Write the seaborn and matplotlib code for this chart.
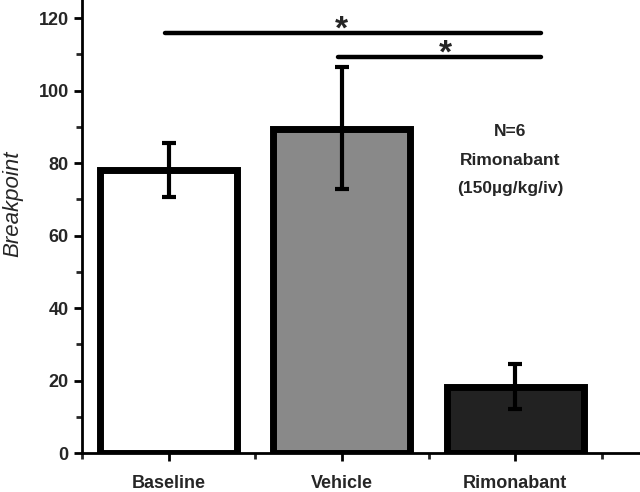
import matplotlib
matplotlib.use("Agg")
import matplotlib.pyplot as plt
import pandas as pd
import seaborn as sns
from matplotlib.ticker import MultipleLocator, FixedLocator

# data
groups = ["Baseline", "Vehicle", "Rimonabant"]
breakpoint = [78, 89.5, 18.3]
err_low = [7.4, 16.7, 6.2]
err_high = [7.5, 17.0, 6.2]
bar_colors = ["#ffffff", "#898989", "#222222"]

# significance brackets: (from group, to group, height, star x)
sig_bars = [(0, 2, 116, 1.0), (1, 2, 109.3, 1.6)]
note_lines = ["N=6", "Rimonabant", "(150\u00b5g/kg/iv)"]

df = pd.DataFrame({"group": groups, "value": breakpoint})

sns.set_style("ticks")
plt.rcParams["font.family"] = ["Liberation Sans", "DejaVu Sans"]

fig = plt.figure(figsize=(6.4, 4.92), dpi=100)
ax = fig.add_axes([0.128, 0.079, 0.872, 0.921])

sns.barplot(data=df, x="group", y="value", hue="group", palette=bar_colors,
            edgecolor="black", linewidth=5, width=0.79, errorbar=None,
            legend=False, ax=ax, saturation=1)

ax.errorbar(range(len(groups)), breakpoint, yerr=[err_low, err_high], fmt="none",
            ecolor="black", elinewidth=3, capsize=5, capthick=3, zorder=5)

# significance lines with stars
for a, b, h, sx in sig_bars:
    ax.plot([a - 0.02, b + 0.15], [h, h], color="black", lw=3.2,
            solid_capstyle="round", clip_on=False)
    ax.text(sx, h + 0.8, "*", ha="center", va="center", fontsize=24,
            fontweight="bold", zorder=6)

# N / treatment note
for i, line in enumerate(note_lines):
    ax.text(1.97, 88.6 - i * 7.8, line, ha="center", va="center",
            fontsize=12.5, fontweight="bold")

ax.set_ylim(0, 125)
ax.set_xlim(-0.5, 2.72)
ax.yaxis.set_major_locator(MultipleLocator(20))
ax.yaxis.set_minor_locator(MultipleLocator(10))
ax.xaxis.set_minor_locator(FixedLocator([-0.5, 0.5, 1.5, 2.5]))
ax.tick_params(axis="both", which="major", direction="out", length=6, width=2,
               labelsize=13, color="black")
ax.tick_params(axis="both", which="minor", direction="out", length=4, width=2)
for lab in ax.get_xticklabels() + ax.get_yticklabels():
    lab.set_fontweight("bold")
ax.tick_params(axis="x", pad=9.5)

ax.set_xlabel("")
ax.set_ylabel("Breakpoint", fontsize=16, fontstyle="italic", labelpad=8)
ax.yaxis.set_label_coords(-0.105, 0.55)

sns.despine(ax=ax)
for side in ["left", "bottom"]:
    ax.spines[side].set_linewidth(2)
    ax.spines[side].set_color("black")

fig.savefig("out.png", dpi=100)
